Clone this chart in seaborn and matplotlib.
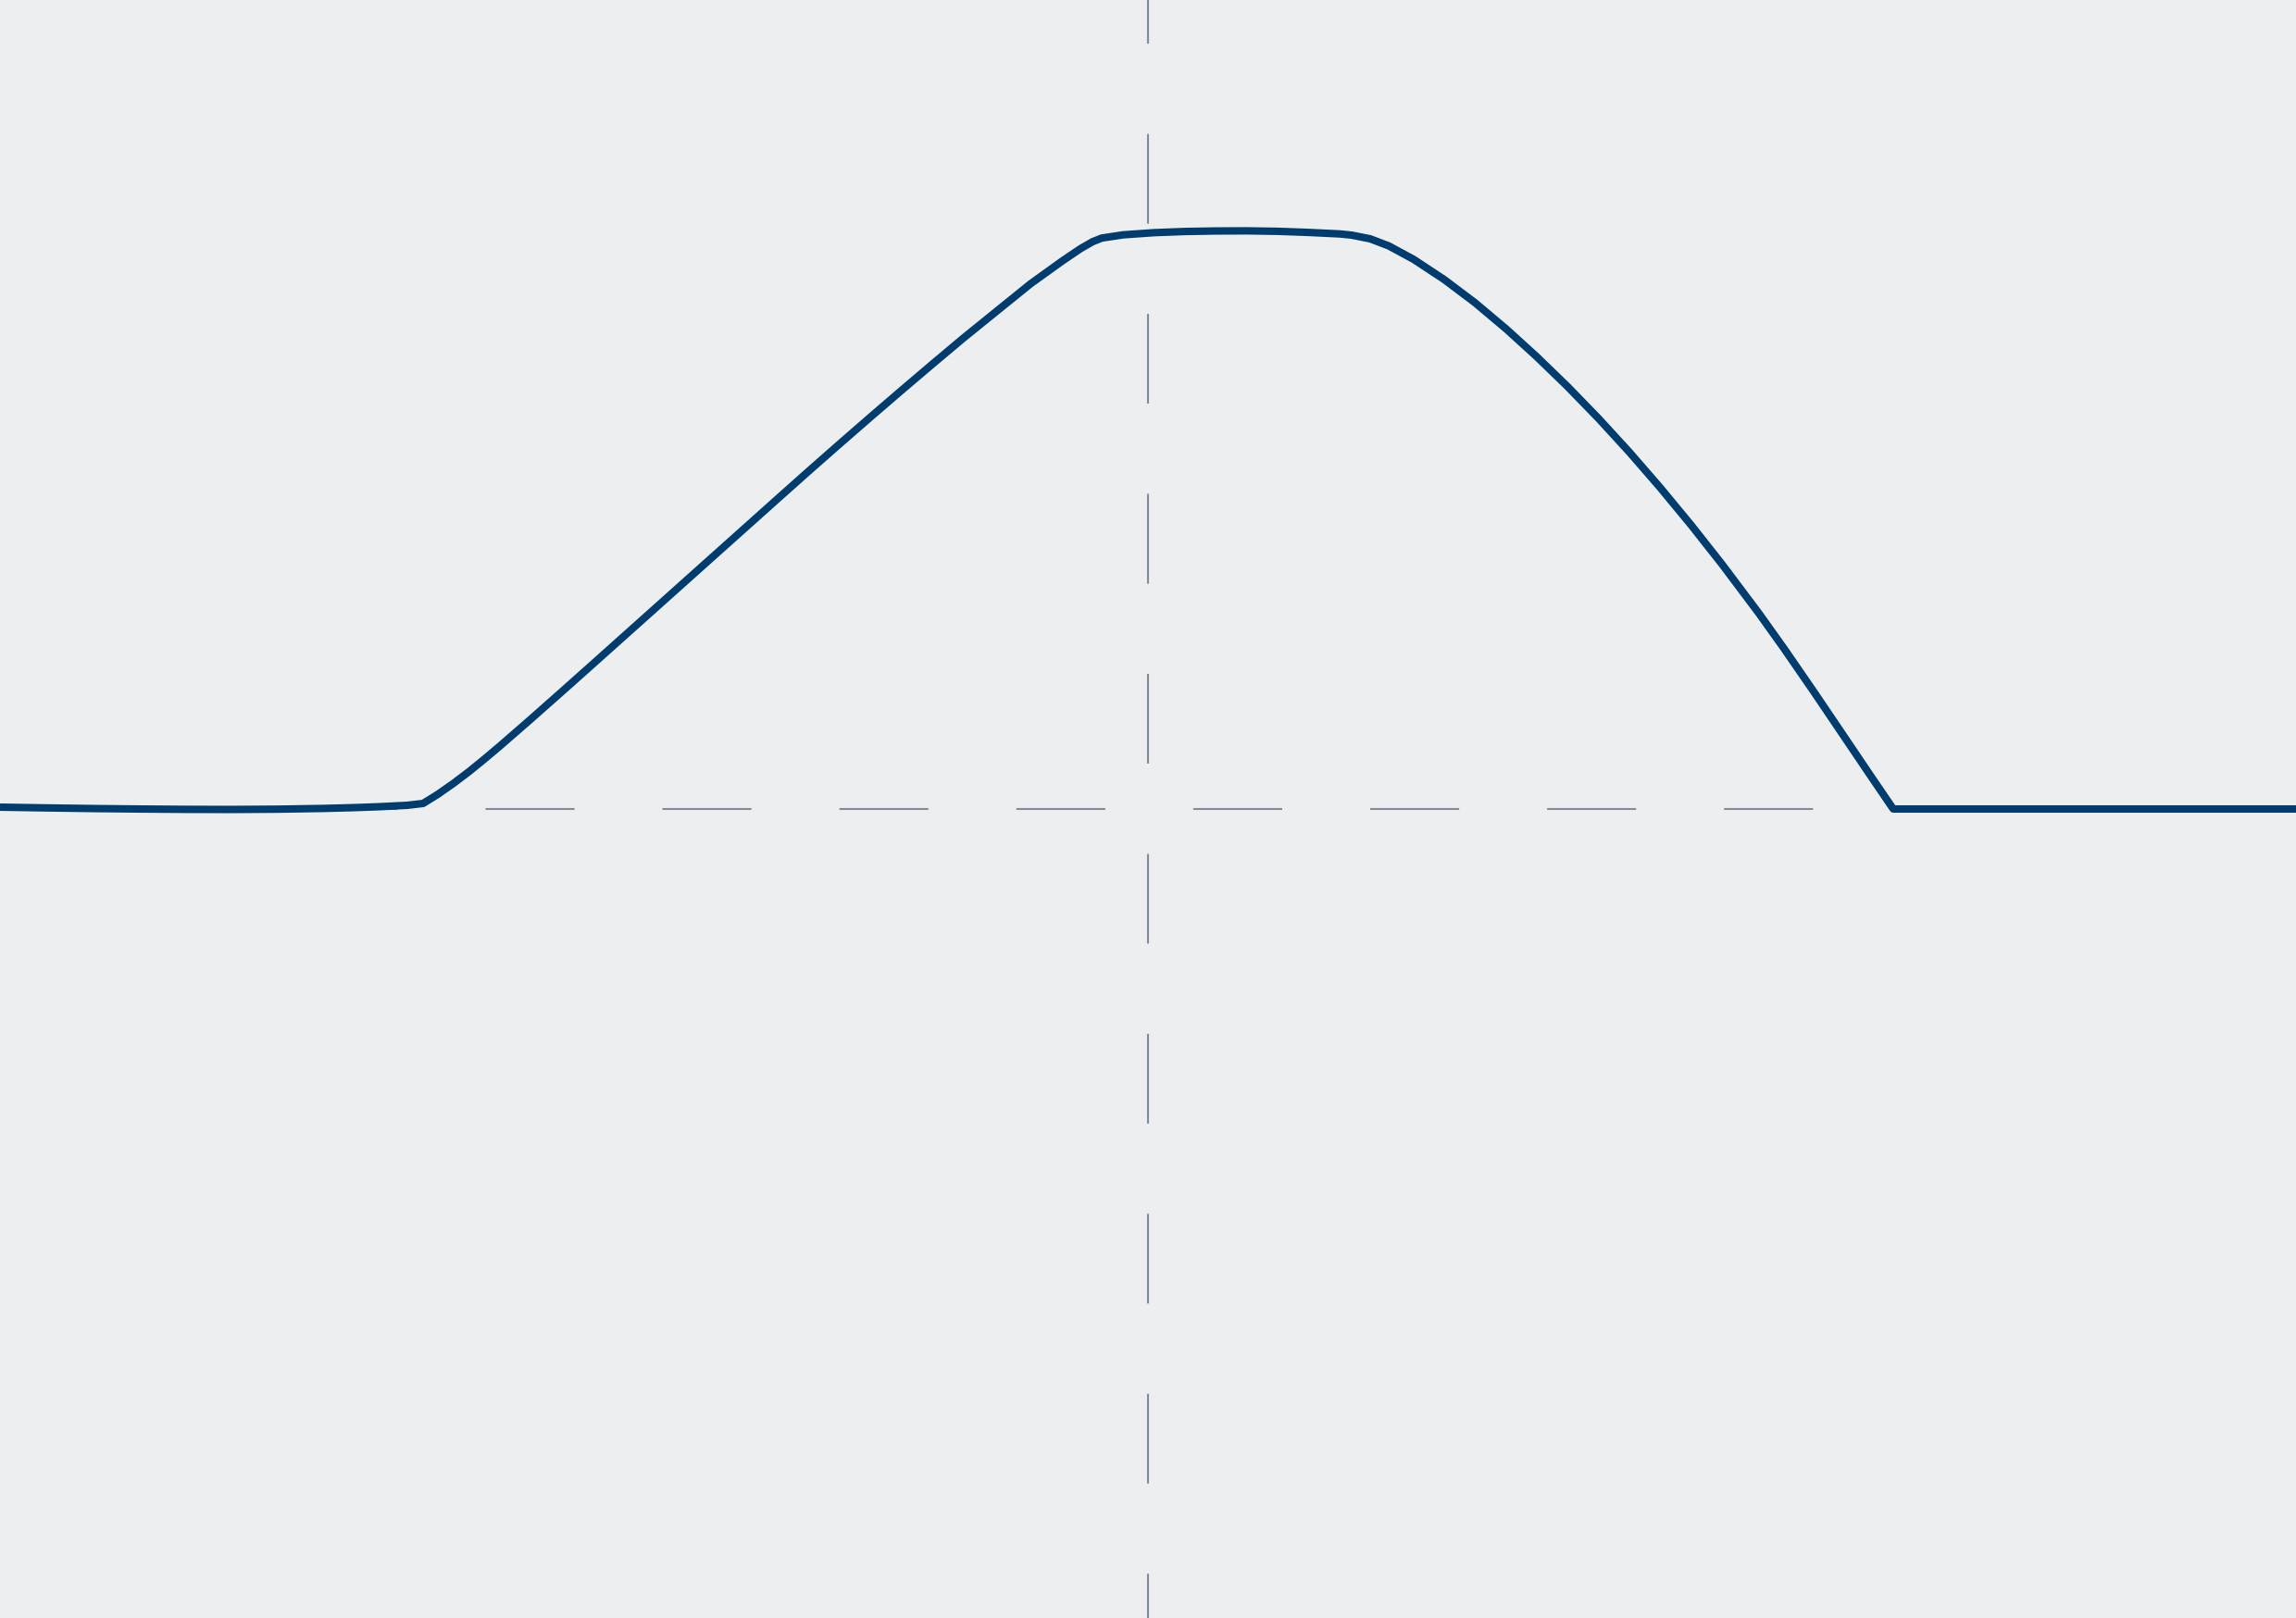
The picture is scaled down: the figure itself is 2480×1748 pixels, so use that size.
import numpy as np
import pandas as pd
import seaborn as sns
import matplotlib
matplotlib.use("Agg")
import matplotlib.pyplot as plt

# -----------------------------
# DATA
# -----------------------------
x_vals = [-3.1, -2.975, -2.85, -2.725, -2.6, -2.4775, -2.35, -2.225, -2.1425,
          -2.075, -2.0, -1.9575,
          -1.9175, -1.875, -1.8325, -1.7925, -1.75, -1.6675, -1.5825, -1.5,
          -1.4175, -1.3325, -1.25, -1.1675, -1.0825, -1.0, -0.9175, -0.8325,
          -0.75, -0.6675, -0.5825, -0.5, -0.4175, -0.3175, -0.2325, -0.1825,
          -0.15, -0.125, -0.0675, 0.0175, 0.1, 0.1825, 0.2675, 0.35, 0.4325,
          0.5175,
          0.55, 0.6, 0.65, 0.7175, 0.8, 0.8825, 0.9675, 1.05, 1.1325, 1.2175,
          1.3, 1.3825, 1.4675, 1.55, 1.65, 1.7175, 1.8, 1.8825, 1.95, 2.0125,
          3.1]
y_vals = [0.0032, 0.0019, 0.0008, 0.0, -0.0006, -0.0008, -0.0003, 0.0010,
          0.0024, 0.0040, 0.0064, 0.0096,
          0.0255, 0.0446, 0.0652, 0.0861, 0.1090, 0.1550, 0.2032, 0.2503,
          0.2976, 0.3463, 0.3936, 0.4409, 0.4896, 0.5369, 0.5840, 0.6319,
          0.6779, 0.7234, 0.7697, 0.8141, 0.8569, 0.9087, 0.9479, 0.9696,
          0.9816, 0.9880, 0.9936, 0.9974, 0.9994, 1.0003, 1.0005, 0.9997,
          0.9978, 0.9952,
          0.9931, 0.9867, 0.9745, 0.9511, 0.9162, 0.8764, 0.8306, 0.7825,
          0.7313, 0.6752, 0.6175, 0.5566, 0.4907, 0.4236, 0.3383, 0.2777,
          0.2010, 0.1228, 0.0587, 0.0,
          0.0]

x_range = (-3.1, 3.1)
y_range = (-1.4, 1.4)

bg = "#EDEEF0"
line_col = "#003C6E"
axis_col = "#7D8D9B"

df = pd.DataFrame({"x": x_vals, "y": y_vals})

# -----------------------------
# PLOT
# -----------------------------
sns.set_theme(style="white", rc={"axes.facecolor": bg, "figure.facecolor": bg})
plt.rcParams["lines.scale_dashes"] = False

fig = plt.figure(figsize=(12.4, 8.74), dpi=200)
ax = fig.add_axes([0, 0, 1, 1])

# dashed zero lines behind the curve
ax.axhline(0, color=axis_col, lw=0.75, linestyle=(17.6, (34.6, 34.2)), zorder=1)
ax.axvline(0, color=axis_col, lw=0.75, linestyle=(17.7, (34.9, 35.1)), zorder=1)

sns.lineplot(data=df, x="x", y="y", sort=False, color=line_col, linewidth=2.9,
             ax=ax, zorder=3)
for ln in ax.lines[-1:]:
    ln.set_solid_joinstyle("round")
    ln.set_solid_capstyle("butt")

ax.set_xlim(*x_range)
ax.set_ylim(*y_range)
ax.set_axis_off()

fig.savefig("out.png", dpi=200, facecolor=bg)
